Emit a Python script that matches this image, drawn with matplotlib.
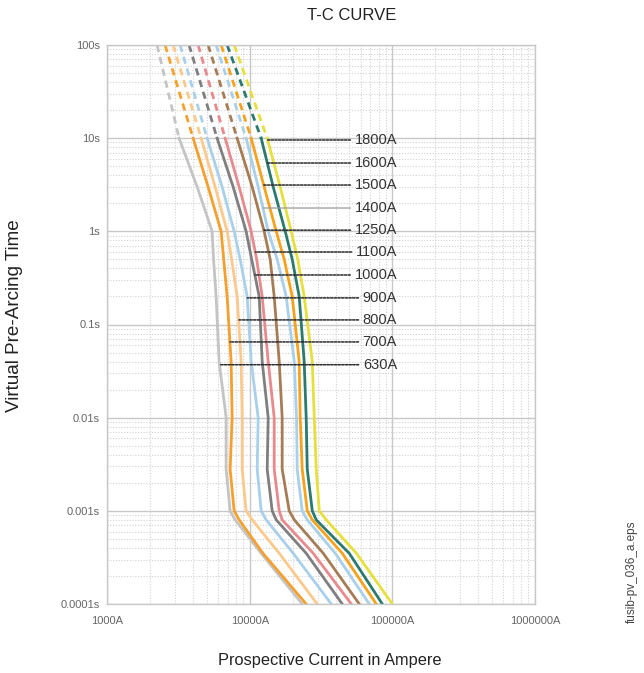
import numpy as np
import matplotlib
matplotlib.use("Agg")
import matplotlib.pyplot as plt

plt.rcParams['font.family'] = ['Liberation Sans', 'DejaVu Sans']

# time points (s) at which the curves were read
times = [100, 10, 3, 1, 0.5, 0.2, 0.04, 0.01, 0.0028, 0.001, 0.0008, 0.00035, 0.0001]

ratings = ["630A", "700A", "800A", "900A", "1000A", "1100A", "1250A",
           "1400A", "1500A", "1600A", "1800A"]

cur_630 = [2244, 3200, 4285, 5454, 5585, 5818, 6107, 6840, 6840, 7295, 7910, 12040, 23360]
cur_700 = [2553, 4015, 5115, 6310, 6577, 6950, 7413, 7537, 7295, 7785, 8440, 12400, 24900]
cur_800 = [2904, 4567, 5728, 6950, 7480, 8170, 8715, 8855, 8855, 9445, 10420, 16110, 29760]
cur_900 = [3252, 5032, 6412, 7785, 8580, 9600, 10250, 11470, 11290, 12040, 13050, 20200, 37330]
cur_1000 = [3760, 5912, 7660, 9445, 10330, 11660, 12240, 13490, 13270, 14380, 15350, 24900, 44580]
cur_1100 = [4351, 6730, 8440, 10250, 11200, 12240, 13490, 14860, 14860, 16110, 16900, 27900, 51560]
cur_1250 = [5115, 8170, 10420, 12640, 13930, 14860, 16110, 16900, 16900, 18930, 20540, 32800, 58650]
cur_1400 = [5818, 9445, 11470, 13490, 15600, 18030, 20540, 21300, 21540, 23350, 25330, 39810, 68950]
cur_1500 = [6310, 10250, 12640, 15350, 17460, 19870, 22240, 22600, 23350, 25330, 27470, 44580, 77200]
cur_1600 = [6950, 12040, 14620, 17750, 19870, 22240, 24110, 24900, 25330, 27470, 29290, 49900, 85100]
cur_1800 = [7785, 13270, 16370, 19550, 21730, 24110, 27470, 28370, 29290, 30750, 34420, 56000, 100000]

curves = [cur_630, cur_700, cur_800, cur_900, cur_1000, cur_1100, cur_1250,
          cur_1400, cur_1500, cur_1600, cur_1800]

colors = ["#c4c4c4", "#f5a02e", "#fcc98c", "#a9d0ea", "#7f7f7f", "#e8898c",
          "#a67c55", "#a9d0ea", "#f7a21c", "#2b7a70", "#e6e03c"]

# times at which label leader lines meet each curve
label_times = [0.037, 0.065, 0.112, 0.193, 0.34, 0.60, 1.03, 1.78, 3.14, 5.41, 9.56]
label_x = 108000

xticks = [1000, 10000, 100000, 1000000]
xticklabels = ["1000A", "10000A", "100000A", "1000000A"]
yticks = [0.0001, 0.001, 0.01, 0.1, 1, 10, 100]
yticklabels = ["0.0001s", "0.001s", "0.01s", "0.1s", "1s", "10s", "100s"]

fig = plt.figure(figsize=(6.44, 6.73), dpi=100)
ax = fig.add_axes([107/644, 69/673, 428/644, 559/673])
ax.set_xscale('log')
ax.set_yscale('log')
ax.set_xlim(1000, 1000000)
ax.set_ylim(0.0001, 100)

ax.grid(which='major', color='#c8c8c8', lw=1.0, ls='-')
ax.grid(which='minor', color='#d2d2d2', lw=0.8, ls=(0, (1, 1.5)))
ax.set_axisbelow(True)

t = np.array(times)
split = 10
for cur, col in zip(curves, colors):
    c = np.array(cur, dtype=float)
    up = t >= split
    lo = t <= split
    ax.plot(c[up], t[up], color=col, lw=2.0, ls=(0, (2.6, 1.8)), solid_capstyle='butt')
    ax.plot(c[lo], t[lo], color=col, lw=2.0, solid_joinstyle='round')

# labels with leader lines
lt = np.log10(t[::-1])
for name, cur, tl in zip(ratings, curves, label_times):
    lc = np.log10(np.array(cur, dtype=float)[::-1])
    xc = 10 ** np.interp(np.log10(tl), lt, lc)
    if name == "1400A":
        ap = dict(arrowstyle='-', color='#9a9a9a', lw=0.9, shrinkA=1, shrinkB=0)
    else:
        ap = dict(arrowstyle='-', color='#2a2a2a', lw=1.1, ls=(0, (1.5, 0.9)), shrinkA=1, shrinkB=0)
    ax.annotate(name, xy=(xc, tl), xytext=(label_x, tl), ha='right', va='center',
                fontsize=10.5, color='#333333', arrowprops=ap)

ax.set_xticks(xticks)
ax.set_xticklabels(xticklabels)
ax.set_yticks(yticks)
ax.set_yticklabels(yticklabels)
ax.tick_params(which='both', length=0, labelsize=8, labelcolor='#666666')
ax.tick_params(axis='x', pad=9)
ax.tick_params(axis='y', pad=5)
for s in ax.spines.values():
    s.set_color('#c8c8c8')
    s.set_linewidth(1.0)

fig.text(352/644, 1 - 15/673, "T-C CURVE", ha='center', va='center', fontsize=12, color='#222222')
fig.text(15/644, 1 - 316/673, "Virtual Pre-Arcing Time", rotation=90, ha='center', va='center',
         fontsize=13.6, color='#222222')
fig.text(330/644, 1 - 660/673, "Prospective Current in Ampere", ha='center', va='center',
         fontsize=11.8, color='#222222')
fig.text(632/644, 1 - 572/673, "fusib-pv_036_a.eps", rotation=90, ha='center', va='center',
         fontsize=8.5, color='#444444')

fig.savefig("out.png", dpi=100)
